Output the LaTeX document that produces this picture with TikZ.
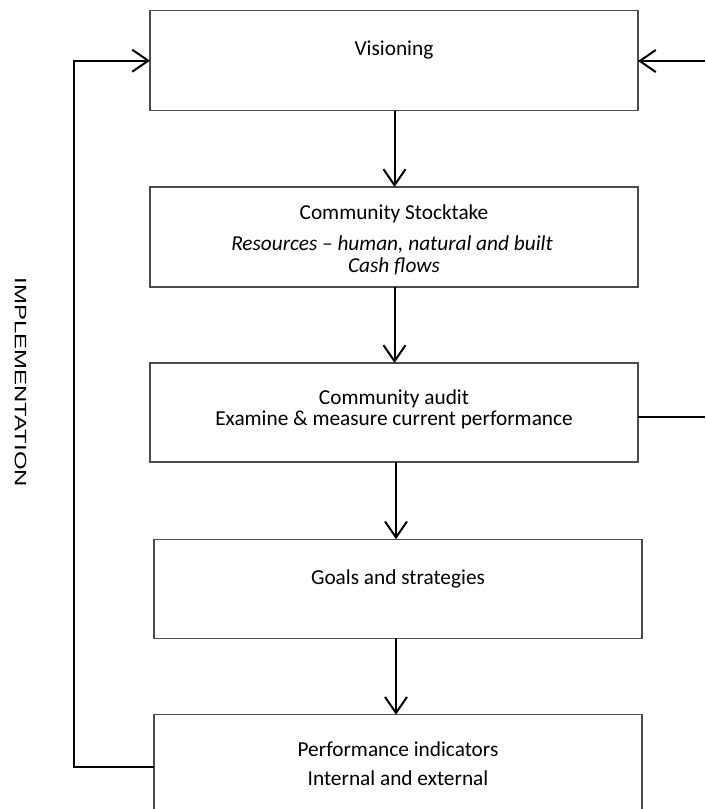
\documentclass[tikz,border=0pt]{standalone}
\usepackage{fontspec}
\setmainfont{Carlito}
\newfontfamily\labelsans{Liberation Sans}
\usetikzlibrary{arrows.meta}
\begin{document}
\begin{tikzpicture}[x=1pt,y=-1pt,
  stage/.style={draw=black!70, line width=1.3pt, minimum width=488pt, inner sep=0pt, outer sep=0pt},
  txt/.style={font=\fontsize{21.3}{25}\selectfont, inner sep=0pt, text height=1.5ex, text depth=.25ex},
  flow/.style={line width=2pt, -{Straight Barb[length=16pt,width=22pt,line width=2pt]}},
  link/.style={line width=2pt}]
\useasboundingbox (0,0) rectangle (705,809);

% stages of the cycle
\node[stage, minimum height=100pt] (vis)   at (394,60.7)  {};
\node[stage, minimum height=100pt] (stock) at (394,237)   {};
\node[stage, minimum height=99pt]  (audit) at (394,412.5) {};
\node[stage, minimum height=99pt]  (goals) at (398,588.7) {};
\node[stage, minimum height=98pt]  (perf)  at (398,763.7) {};

% texts
\node[txt] (tvis)  at (394,53)  {Visioning};
\node[txt] (ts1)   at (394,217) {Community Stocktake};
\node[txt] (ts2)   at (392,248) {\itshape Resources -- human, natural and built};
\node[txt] (ts3)   at (394,270) {\itshape Cash flows};
\node[txt] (ta1)   at (394,402) {Community audit};
\node[txt] (ta2)   at (394,423) {Examine \& measure current performance};
\node[txt] (tg)    at (398,582) {Goals and strategies};
\node[txt] (tp1)   at (398,754) {Performance indicators};
\node[txt] (tp2)   at (398,783) {Internal and external};

\node[font=\labelsans\fontsize{16.5}{19}\selectfont, rotate=-90, inner sep=0pt]
  (impl) at (20.5,382.5) {\scalebox{1.45}[1]{IMPLEMENTATION}};

% downward flow
\coordinate (c1) at (394.5,0);
\coordinate (c2) at (396,0);
\draw[flow] (vis.south -| c1)   -- (stock.north -| c1);
\draw[flow] (stock.south -| c1) -- (audit.north -| c1);
\draw[flow] (audit.south -| c2) -- (goals.north -| c2);
\draw[flow] (goals.south -| c2) -- (perf.north -| c2);

% implementation loop back to the vision
\coordinate (lx) at (74,0);
\draw[flow] (perf.west |- 0,767) -| (lx |- vis.west) -- (vis.west);

% feedback from the audit
\coordinate (rin)  at (705,61);
\coordinate (rout) at (705,417);
\draw[flow] (rin) -- (vis.east |- rin);
\draw[link] (audit.east |- rout) -- (rout);
\end{tikzpicture}
\end{document}
